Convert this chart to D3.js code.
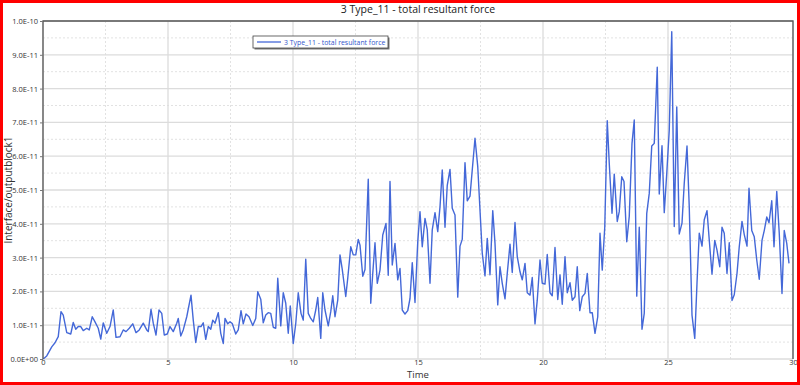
<html>
<head>
<script src='https://d3js.org/d3.v7.min.js'></script>
<style>
body {margin:0; background:white;}
text {font-family: "Open Sans", "DejaVu Sans", sans-serif;}
</style>
</head>
<body>
<svg width=800 height=385></svg>
<script>
// time (s) and force (x 1E-11)
var time = [0.01,0.15,0.35,0.48,0.61,0.72,0.81,0.95,1.11,1.21,1.31,1.41,1.51,1.61,1.75,1.85,1.97,2.08,2.21,2.31,2.41,2.55,2.68,2.81,2.92,3.08,3.21,3.32,3.45,3.59,3.72,3.85,4.01,4.15,4.21,4.32,4.41,4.52,4.64,4.75,4.85,4.97,5.08,5.21,5.35,5.41,5.51,5.61,5.75,5.92,6.01,6.11,6.21,6.32,6.41,6.51,6.61,6.71,6.79,6.88,7.01,7.11,7.21,
  7.28,7.39,7.48,7.57,7.71,7.81,7.92,8.01,8.12,8.24,8.39,8.51,8.59,8.71,8.81,8.91,9.01,9.11,9.21,9.31,9.39,9.51,9.61,9.71,9.81,9.89,10.01,10.11,10.21,10.32,10.41,10.51,10.61,10.71,10.81,10.91,10.99,11.11,11.19,11.28,11.41,11.51,11.59,11.68,11.79,11.88,11.97,12.11,12.19,12.31,12.41,12.51,12.61,12.68,12.79,12.88,13.01,13.11,13.19,13.28,13.37,13.48,13.59,13.72,13.81,13.88,13.97,14.08,14.19,14.28,14.37,14.48,14.59,14.68,14.77,14.88,14.99,15.08,
  15.17,15.28,15.37,15.48,15.57,15.68,15.79,15.88,15.97,16.08,16.17,16.28,16.37,16.48,16.59,16.68,16.77,16.88,16.97,17.08,17.17,17.28,17.39,17.48,17.57,17.68,17.77,17.88,17.99,18.08,18.19,18.28,18.37,18.48,18.57,18.68,18.77,18.88,18.97,19.08,19.17,19.28,19.37,19.48,19.57,19.68,19.77,19.88,19.97,20.08,20.17,20.28,20.37,20.48,20.59,20.68,20.77,20.88,20.97,21.08,21.17,21.28,21.37,21.47,21.57,21.68,21.77,21.88,21.97,22.08,22.19,22.28,22.37,
  22.47,22.57,22.65,22.76,22.85,22.97,23.05,23.15,23.24,23.35,23.45,23.56,23.65,23.75,23.85,23.96,24.05,24.15,24.25,24.35,24.45,24.57,24.65,24.76,24.85,24.95,25.05,25.15,25.25,25.35,25.45,25.56,25.65,25.76,25.85,25.96,26.07,26.16,26.25,26.36,26.45,26.56,26.65,26.76,26.87,26.96,27.07,27.16,27.25,27.36,27.45,27.56,27.65,27.76,27.85,27.96,28.05,28.16,28.24,28.35,28.45,28.55,28.65,28.76,28.85,28.95,29.04,29.15,29.24,29.35,29.45,29.56,29.65,29.75,29.84];

var force = [0,0.09,0.36,0.48,0.66,1.40,1.30,0.78,0.74,1.08,0.88,0.96,0.96,0.84,0.91,0.86,1.25,1.10,0.91,0.59,1.07,0.76,0.96,1.45,0.64,0.66,0.86,0.81,0.91,1.04,0.78,0.86,1.06,0.86,0.81,1.47,1.06,0.71,1.45,1.35,0.71,0.74,0.96,0.81,1.06,1.20,0.68,0.86,1.25,1.89,1.15,0.49,0.96,0.96,1.07,0.58,0.96,0.88,1.15,1.06,1.37,0.76,0.46,
  1.20,1.04,1.10,1.05,0.74,0.86,1.43,1.04,1.33,1.25,0.99,1.20,1.99,1.77,1.07,1.30,1.37,1.35,0.94,0.91,2.39,0.98,1.96,1.65,0.76,1.57,0.46,1.05,1.96,1.35,1.15,2.95,1.35,1.20,1.10,1.45,1.82,0.61,1.96,1.45,0.98,1.40,1.87,1.25,1.74,3.08,2.65,1.85,2.39,3.32,3.08,3.08,3.54,3.37,2.45,2.65,5.32,1.65,2.53,3.44,2.24,2.63,3.67,4.01,2.48,5.25,2.78,3.42,2.34,2.68,1.45,1.33,1.43,1.79,2.85,1.67,3.47,4.36,
  3.32,4.16,3.82,2.24,3.82,4.33,3.77,4.50,5.59,3.90,5.14,5.61,4.46,4.26,1.83,3.34,3.54,5.81,4.68,4.82,5.59,6.53,5.69,4.40,3.13,2.46,3.57,2.49,4.39,3.42,1.60,2.73,2.24,1.78,2.53,3.40,2.56,4.04,3.03,2.58,2.34,2.83,1.96,1.89,2.41,1.04,1.74,2.93,2.24,2.22,3.09,1.96,1.87,3.30,1.76,2.49,1.62,3.03,1.96,2.26,1.74,1.84,2.73,1.43,1.84,1.94,2.53,1.37,1.37,0.76,1.25,3.72,2.63,
  3.90,7.05,5.79,4.31,5.47,4.07,4.36,5.39,5.25,3.47,4.22,6.38,7.07,1.86,3.90,0.88,1.35,4.31,4.90,6.30,6.38,8.63,4.88,6.31,4.33,5.49,6.77,9.68,3.92,7.46,3.70,4.02,5.20,6.30,4.50,1.30,0.61,2.24,3.72,3.34,4.12,4.39,3.52,2.51,3.51,3.22,2.73,3.90,3.72,2.53,3.44,1.73,1.90,2.53,3.32,4.07,3.68,3.34,5.05,3.80,3.62,2.93,2.36,3.51,3.80,4.20,4.03,4.68,3.32,4.96,3.72,1.94,3.80,3.42,2.83];

var xTicks = [0, 5, 10, 15, 20, 25, 30];
var yTicks = [0, 1, 2, 3, 4, 5, 6, 7, 8, 9, 10];
var yTickLabels = ["0.0E+00","1.0E-11","2.0E-11","3.0E-11","4.0E-11","5.0E-11","6.0E-11","7.0E-11","8.0E-11","9.0E-11","1.0E-10"];
var title = "3 Type_11 - total resultant force";

function draw() {
  var data = time.map(function(t, i) { return {t: t, v: force[i]}; });

  var pL = 43, pR = 793, pT = 21, pB = 359;
  var blue = "#4468d8";

  var svg = d3.select("svg");

  var xScale = d3.scaleLinear().domain([0, 30]).range([pL, pR]);
  var yScale = d3.scaleLinear().domain([0, 10]).range([pB, pT]);

  // minor dashed grid
  svg.append("g").selectAll("line").data(d3.range(0.5, 10, 1)).enter().append("line")
    .attr("x1", pL).attr("x2", pR)
    .attr("y1", function(d) {return yScale(d);}).attr("y2", function(d) {return yScale(d);})
    .attr("stroke", "#e2e2e2").attr("stroke-dasharray", "2,2");
  svg.append("g").selectAll("line").data(d3.range(2.5, 30, 5)).enter().append("line")
    .attr("y1", pT).attr("y2", pB)
    .attr("x1", function(d) {return xScale(d);}).attr("x2", function(d) {return xScale(d);})
    .attr("stroke", "#e2e2e2").attr("stroke-dasharray", "2,2");

  // major grid
  svg.append("g").selectAll("line").data(yTicks).enter().append("line")
    .attr("x1", pL).attr("x2", pR)
    .attr("y1", function(d) {return yScale(d);}).attr("y2", function(d) {return yScale(d);})
    .attr("stroke", "#dcdcdc").attr("stroke-width", 1.3);
  svg.append("g").selectAll("line").data(xTicks).enter().append("line")
    .attr("y1", pT).attr("y2", pB)
    .attr("x1", function(d) {return xScale(d);}).attr("x2", function(d) {return xScale(d);})
    .attr("stroke", "#dcdcdc").attr("stroke-width", 1.3);

  // the series
  var line = d3.line().x(function(d) {return xScale(d.t);}).y(function(d) {return yScale(d.v);});
  svg.append("path").datum(data)
    .attr("d", line)
    .attr("fill", "none")
    .attr("stroke", blue)
    .attr("stroke-width", 1.4)
    .attr("stroke-linejoin", "round");

  // frame
  svg.append("path")
    .attr("d", "M" + pL + "," + pB + "V" + pT + "H" + pR + "V" + pB)
    .attr("fill", "none").attr("stroke", "#555").attr("stroke-width", 1.3);

  var yAxis = d3.axisLeft(yScale).tickValues(yTicks).tickSize(3)
    .tickFormat(function(d, i) {return yTickLabels[i];});
  var gy = svg.append("g").attr("transform", "translate(" + pL + ",0)").call(yAxis);
  gy.select(".domain").remove();
  gy.selectAll("line").attr("stroke", "#777");
  gy.selectAll("text").attr("font-size", 7.5).attr("fill", "#333").attr("dx", 1)
    .style("font-family", "'Open Sans', sans-serif");

  var xAxis = d3.axisBottom(xScale).tickValues(xTicks).tickSize(0).tickPadding(1);
  var gx = svg.append("g").attr("transform", "translate(0," + pB + ")").call(xAxis);
  gx.select(".domain").remove();
  gx.selectAll("text").attr("font-size", 7.5).attr("fill", "#333")
    .style("font-family", "'Open Sans', sans-serif");

  // titles
  svg.append("text").attr("x", (pL + pR) / 2).attr("y", 13)
    .attr("text-anchor", "middle").attr("font-size", 10.5).attr("fill", "#222").text(title);
  svg.append("text").attr("x", (pL + pR) / 2).attr("y", 378)
    .attr("text-anchor", "middle").attr("font-size", 9.5).attr("fill", "#333").text("Time");
  svg.append("text").attr("transform", "translate(12," + ((pT + pB) / 2) + ") rotate(-90)")
    .attr("text-anchor", "middle").attr("font-size", 10).attr("fill", "#333").text("Interface/outputblock1");

  // legend
  var lg = svg.append("g").attr("transform", "translate(253,36)");
  lg.append("rect").attr("x", 1.5).attr("y", 1.5).attr("width", 135).attr("height", 12).attr("fill", "#777");
  lg.append("rect").attr("width", 135).attr("height", 12).attr("fill", "white").attr("stroke", "#444").attr("stroke-width", 0.8);
  lg.append("line").attr("x1", 4).attr("x2", 28).attr("y1", 6).attr("y2", 6).attr("stroke", blue).attr("stroke-width", 1.3);
  lg.append("text").attr("x", 31).attr("y", 8.6).attr("font-size", 6.9).attr("fill", "#3355cc").text(title);

  // red outline round the picture
  svg.append("rect").attr("x", 1.5).attr("y", 1.5).attr("width", 797).attr("height", 382)
    .attr("fill", "none").attr("stroke", "red").attr("stroke-width", 3);
}
draw();
</script>
</body>
</html>
